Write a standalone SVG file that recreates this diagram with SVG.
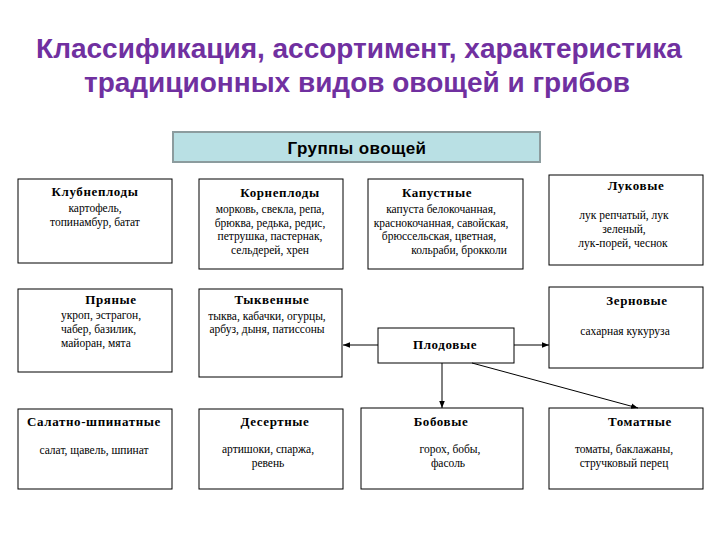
<svg xmlns="http://www.w3.org/2000/svg" width="720" height="540" viewBox="0 0 720 540">
<defs>
<style>
.ttl{font-family:"Liberation Sans",Arial,sans-serif;font-weight:bold;font-size:28px;fill:#7030a0;text-anchor:middle}
.box{fill:#fff;stroke:#000;stroke-width:1}
.hdr{fill:#b9e0e4;stroke:#8c9c9e;stroke-width:2}
.hdrt{font-family:"Liberation Sans",Arial,sans-serif;font-weight:bold;font-size:17px;letter-spacing:0.4px;fill:#000;text-anchor:middle}
.h{font-family:"Liberation Serif","Times New Roman",serif;font-weight:bold;font-size:13px;letter-spacing:0.6px;fill:#000;text-anchor:middle}
.t{font-family:"Liberation Serif","Times New Roman",serif;font-size:11.5px;fill:#000;text-anchor:middle}
.tl{font-family:"Liberation Serif","Times New Roman",serif;font-size:11.5px;fill:#000;text-anchor:start}
.c{stroke:#000;stroke-width:1;fill:none;marker-end:url(#ah)}
</style>
<marker id="ah" viewBox="0 0 10 10" refX="10" refY="5" markerWidth="7" markerHeight="7" markerUnits="userSpaceOnUse" orient="auto">
<path d="M0,1 L10,5 L0,9 Z" fill="#000"/>
</marker>
</defs>
<rect width="720" height="540" fill="#fff"/>
<g id="title">
<text class="ttl" x="359" y="58">Классификация, ассортимент, характеристика</text>
<text class="ttl" x="357" y="92">традиционных видов овощей и грибов</text>
</g>
<g id="header">
<rect class="hdr" x="173" y="132" width="367" height="30"/>
<text class="hdrt" x="357" y="154">Группы овощей</text>
</g>
<g id="klubneplody">
<rect class="box" x="18" y="179" width="154" height="84"/>
<text class="h" x="95" y="196">Клубнеплоды</text>
<text class="t" x="95" y="212">картофель,</text>
<text class="t" x="95" y="226">топинамбур, батат</text>
</g>
<g id="korneplody">
<rect class="box" x="199" y="179" width="144" height="90"/>
<text class="h" x="280" y="197">Корнеплоды</text>
<text class="t" x="270" y="213">морковь, свекла, репа,</text>
<text class="t" x="270" y="227">брюква, редька, редис,</text>
<text class="t" x="270" y="240">петрушка, пастернак,</text>
<text class="t" x="270" y="254">сельдерей, хрен</text>
</g>
<g id="kapustnye">
<rect class="box" x="368" y="179" width="155" height="90"/>
<text class="h" x="437" y="197">Капустные</text>
<text class="t" x="441" y="213">капуста белокочанная,</text>
<text class="t" x="441" y="227">краснокочанная, савойская,</text>
<text class="t" x="439" y="240">брюссельская, цветная,</text>
<text class="t" x="459" y="254">кольраби, брокколи</text>
</g>
<g id="lukovye">
<rect class="box" x="549" y="175" width="154" height="90"/>
<text class="h" x="636" y="190">Луковые</text>
<text class="t" x="624" y="219">лук репчатый, лук</text>
<text class="t" x="624" y="233">зеленый,</text>
<text class="t" x="623" y="247">лук-порей, чеснок</text>
</g>
<g id="pryanye">
<rect class="box" x="18" y="289" width="154" height="83"/>
<text class="h" x="111" y="304">Пряные</text>
<text class="tl" x="61" y="319">укроп, эстрагон,</text>
<text class="tl" x="61" y="333">чабер, базилик,</text>
<text class="tl" x="61" y="347">майоран, мята</text>
</g>
<g id="tykvennye">
<rect class="box" x="199" y="289" width="143" height="88"/>
<text class="h" x="272" y="304">Тыквенные</text>
<text class="t" x="267" y="320">тыква, кабачки, огурцы,</text>
<text class="t" x="267" y="333">арбуз, дыня, патиссоны</text>
</g>
<g id="plodovye">
<rect class="box" x="378" y="328" width="136" height="35"/>
<text class="h" x="445" y="349">Плодовые</text>
</g>
<g id="zernovye">
<rect class="box" x="549" y="287" width="154" height="81"/>
<text class="h" x="637" y="305">Зерновые</text>
<text class="t" x="625" y="335">сахарная кукуруза</text>
</g>
<g id="salatnye">
<rect class="box" x="18" y="409" width="154" height="80"/>
<text class="h" x="94" y="426">Салатно-шпинатные</text>
<text class="t" x="94" y="454">салат, щавель, шпинат</text>
</g>
<g id="desertnye">
<rect class="box" x="199" y="409" width="144" height="80"/>
<text class="h" x="275" y="426">Десертные</text>
<text class="t" x="268" y="453">артишоки, спаржа,</text>
<text class="t" x="268" y="467">ревень</text>
</g>
<g id="bobovye">
<rect class="box" x="361" y="408" width="162" height="81"/>
<text class="h" x="441" y="426">Бобовые</text>
<text class="t" x="450" y="453">горох, бобы,</text>
<text class="t" x="448" y="467">фасоль</text>
</g>
<g id="tomatnye">
<rect class="box" x="549" y="408" width="154" height="81"/>
<text class="h" x="640" y="426">Томатные</text>
<text class="t" x="624" y="453">томаты, баклажаны,</text>
<text class="t" x="624" y="467">стручковый перец</text>
</g>
<g id="connectors">
<line class="c" x1="378" y1="345" x2="343" y2="345"/>
<line class="c" x1="514" y1="345" x2="549" y2="345"/>
<line class="c" x1="442" y1="363" x2="442" y2="408"/>
<line class="c" x1="472" y1="363" x2="638" y2="408"/>
</g>
</svg>
